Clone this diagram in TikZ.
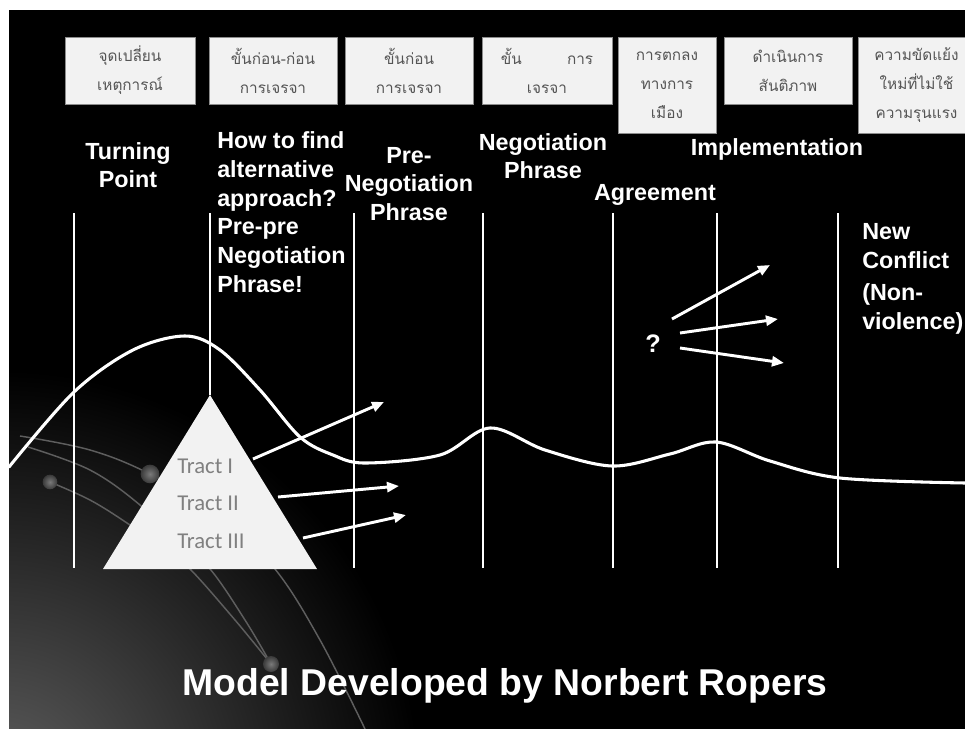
\documentclass[tikz,border=0pt]{standalone}
\usepackage{fontspec}
\usetikzlibrary{arrows.meta}
\newfontfamily\headfont{Liberation Sans}
\newfontfamily\tractfont{Carlito}
\newfontfamily\thaifont[Script=Thai]{Loma}
\definecolor{boxfill}{HTML}{F2F2F2}
\definecolor{boxline}{HTML}{8C8C8C}
\definecolor{thaitext}{HTML}{555555}
\definecolor{tracttext}{HTML}{808080}
\definecolor{decoline}{HTML}{5E5E5E}
\definecolor{shadein}{HTML}{5E5E5E}
\definecolor{dotin}{HTML}{7A7A7A}
\definecolor{dotout}{HTML}{3A3A3A}
\begin{document}
\begin{tikzpicture}[x=0.75pt,y=-0.75pt,
  tbox/.style={draw=boxline, line width=0.6pt, fill=boxfill,
    font=\thaifont\fontsize{11.5}{21.75}\selectfont, text=thaitext,
    align=center, inner sep=0pt},
  head/.style={font=\headfont\bfseries\fontsize{17.5}{21.5}\selectfont,
    text=white, align=center, inner sep=0pt},
  tract/.style={font=\tractfont\fontsize{17}{20}\selectfont, text=tracttext,
    anchor=west, inner sep=0pt},
  vline/.style={white, line width=1.5pt},
  arr/.style={white, line width=2.2pt, -{Triangle[length=9pt,width=7.5pt]}},
  deco/.style={decoline, line width=1.1pt},
  ball/.style={inner color=dotin, outer color=dotout},
]
\useasboundingbox (0,0) rectangle (965,729);
\fill[white] (0,0) rectangle (965,729);
\fill[black] (9,10) rectangle (965,729);

% background gradient and decorative curves
\begin{scope}
\clip (9,10) rectangle (965,729);
\shade[inner color=shadein, outer color=black] (0,790) circle (315pt);
\draw[deco] plot[smooth, tension=0.6] coordinates {(20,436) (90,450) (150,474) (220,515) (275,569) (320,640) (365,729)};
\draw[deco] plot[smooth, tension=0.6] coordinates {(28,447) (90,470) (140,505) (180,545) (210,569) (245,620) (271,664)};
\draw[deco] plot[smooth, tension=0.6] coordinates {(50,482) (90,500) (127,523) (165,550) (190,569) (235,620) (271,664)};
\shade[ball] (150,474) circle (7pt);
\shade[ball] (50,482) circle (5.5pt);
\shade[ball] (271,664) circle (6pt);
\end{scope}

% vertical phase lines
\foreach \x [count=\i] in {74,354,483,613,717,838} {
  \coordinate (top\i) at (\x,213);
  \coordinate (bot\i) at (\x,568);
  \draw[vline] (top\i) -- (bot\i);
}
\coordinate (top0) at (210,213);
\coordinate (apex) at (210,395);
\coordinate (tl) at (103,569);
\coordinate (tr) at (317,569);
\draw[vline] (top0) -- (apex);

% main conflict curve
\draw[white, line width=2.3pt, line cap=round] plot[smooth, tension=0.55] coordinates {(9,467) (74,392) (133,350) (185,336) (220,350) (260,390) (300,437) (333,455) (365,463) (440,455) (490,428) (545,450) (612,466) (670,454) (716,442) (770,461) (840,478) (965,483)};

% triangle
\fill[boxfill] (apex) -- (tr) -- (tl) -- cycle;
\node[tract] (t1) at (177,466) {Tract I};
\node[tract] (t2) at (177,503) {Tract II};
\node[tract] (t3) at (177,541) {Tract III};

\coordinate (a1s) at (253,459); \coordinate (a1e) at (384,402);
\coordinate (a2s) at (278,497); \coordinate (a2e) at (399,486);
\coordinate (a3s) at (303,538); \coordinate (a3e) at (406,515);
\draw[arr] (a1s) -- (a1e);
\draw[arr] (a2s) -- (a2e);
\draw[arr] (a3s) -- (a3e);

% question and arrows
\node[font=\headfont\bfseries\fontsize{19}{22}\selectfont, text=white, inner sep=0pt] (q) at (653,344) {?};
\coordinate (q1s) at (672,319); \coordinate (q1e) at (770,265);
\coordinate (q2s) at (680,333); \coordinate (q2e) at (778,319);
\coordinate (q3s) at (680,348); \coordinate (q3e) at (784,363);
\draw[arr] (q1s) -- (q1e);
\draw[arr] (q2s) -- (q2e);
\draw[arr] (q3s) -- (q3e);

% top boxes
\node[tbox, minimum width=97.5pt, minimum height=50.25pt] (b1) at (130,70.5) {จุดเปลี่ยน\\เหตุการณ์};
\node[tbox, minimum width=96pt, minimum height=50.25pt] (b2) at (273,70.5) {ขั้นก่อน-ก่อน\\การเจรจา};
\node[tbox, minimum width=96pt, minimum height=50.25pt] (b3) at (409,70.5) {ขั้นก่อน\\การเจรจา};
\node[tbox, minimum width=97.5pt, minimum height=50.25pt] (b4) at (547,70.5) {ขั้น\hspace{34pt}การ\\เจรจา};
\node[tbox, minimum width=73.5pt, minimum height=72pt] (b5) at (667,85) {การตกลง\\ทางการ\\เมือง};
\node[tbox, minimum width=96pt, minimum height=50.25pt] (b6) at (788,70.5) {ดำเนินการ\\สันติภาพ};
\begin{scope}
\clip (9,10) rectangle (965,729);
\node[tbox, minimum width=87.75pt, minimum height=72pt] (b7) at (916.5,85) {ความขัดแย้ง\\ใหม่ที่ไม่ใช้\\ความรุนแรง};
\end{scope}

% phase headings
\node[head] (h1) at (128,165) {Turning\\Point};
\node[head, align=left, anchor=west] (h2) at (217,212) {How to find\\alternative\\approach?\\Pre-pre\\Negotiation\\Phrase!};
\node[head] (h3) at (409,184) {Pre-\\Negotiation\\Phrase};
\node[head] (h4) at (543,156) {Negotiation\\Phrase};
\node[head] (h5) at (655,195) {Agreement};
\node[head] (h6) at (777,149) {Implementation};
\node[head, align=left, anchor=west] (h7) at (862,279) {New\\Conflict\\[3pt](Non-\\violence)};

% title
\node[font=\headfont\bfseries\fontsize{28}{32}\selectfont, text=white, inner sep=0pt] (title) at (505,686) {Model Developed by Norbert Ropers};
\end{tikzpicture}
\end{document}
